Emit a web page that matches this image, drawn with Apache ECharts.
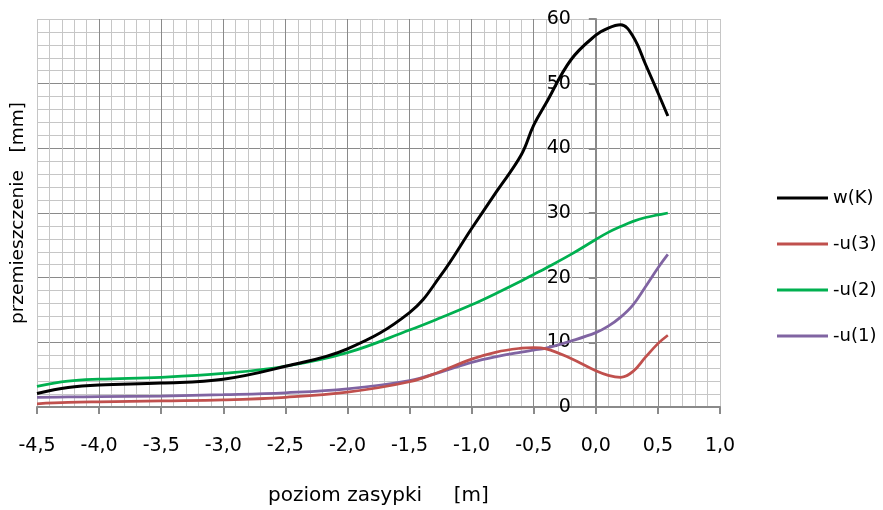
<!DOCTYPE html>
<html>
<head>
<meta charset="utf-8">
<title>przemieszczenie</title>
<script src="https://cdn.jsdelivr.net/npm/echarts@6/dist/echarts.min.js"></script>
<style>
  html, body { margin: 0; padding: 0; background: #fff; }
  #chart { width: 883px; height: 510px; }
</style>
</head>
<body>
<div id="chart"></div>
<script>
// poziom zasypki [m]
const xs = [-4.5, -4.25, -4.0, -3.5, -3.0, -2.5, -2.0, -1.5, -1.25, -1.0, -0.8, -0.6, -0.5, -0.4, -0.2, 0, 0.1, 0.2, 0.3, 0.4, 0.5, 0.58]

// przemieszczenie [mm]
const wK = [2.1, 3.0, 3.4, 3.7, 4.3, 6.3, 9.0, 14.6, 20.3, 27.6, 33.3, 39.0, 43.6, 47.0, 53.7, 57.5, 58.6, 59.1, 57.3, 53.0, 48.6, 45.0]
const u3 = [0.5, 0.7, 0.8, 0.95, 1.1, 1.5, 2.3, 3.9, 5.5, 7.4, 8.5, 9.1, 9.2, 9.0, 7.5, 5.6, 4.9, 4.6, 5.5, 7.7, 9.8, 11.1]
const u2 = [3.2, 4.0, 4.3, 4.6, 5.2, 6.3, 8.4, 11.9, 13.8, 15.8, 17.6, 19.5, 20.5, 21.5, 23.6, 25.9, 27.0, 27.9, 28.7, 29.3, 29.7, 30.0]
const u1 = [1.5, 1.55, 1.6, 1.7, 1.9, 2.2, 2.8, 4.1, 5.4, 6.9, 7.8, 8.5, 8.8, 9.1, 10.2, 11.5, 12.5, 13.9, 15.8, 18.6, 21.5, 23.6]

const seriesNames = ['w(K)', '-u(3)', '-u(2)', '-u(1)']
const seriesValues = [wK, u3, u2, u1]
const seriesColors = ['#000000', '#C0504D', '#00B050', '#8064A2']

const FONT = 'DejaVu Sans'
const MAJOR = '#8a8a8a'
const MINOR = '#c6c6c6'

const GRID_LEFT = 37
const GRID_RIGHT = 163
const X_MIN = -4.5
const X_MAX = 1.0

const chart = echarts.init(document.getElementById('chart'))

// y axis crosses at x = 0, move the whole axis there
const plotWidth = 883 - GRID_LEFT - GRID_RIGHT
const zeroOffset = plotWidth * (0 - X_MIN) / (X_MAX - X_MIN)

const option = {
  animation: false,
  textStyle: { fontFamily: FONT, color: '#000' },
  grid: {
    left: GRID_LEFT,
    right: GRID_RIGHT,
    top: 19,
    bottom: 103,
    containLabel: false,
    outerBoundsMode: 'none'
  },
  legend: {
    orient: 'vertical',
    left: 777,
    top: 189,
    padding: 0,
    itemWidth: 51,
    itemHeight: 3,
    itemGap: 28,
    icon: 'rect',
    data: seriesNames,
    textStyle: { fontFamily: FONT, fontSize: 18, color: '#000' }
  },
  xAxis: {
    type: 'value',
    min: X_MIN,
    max: X_MAX,
    interval: 0.5,
    name: 'poziom zasypki     [m]',
    nameLocation: 'middle',
    nameGap: 79,
    nameTextStyle: { fontFamily: FONT, fontSize: 20, color: '#000' },
    axisLine: { onZero: false, lineStyle: { color: MAJOR, width: 2 } },
    axisTick: { show: true, length: 7, lineStyle: { color: MAJOR, width: 2 } },
    axisLabel: {
      margin: 30,
      fontFamily: FONT,
      fontSize: 19,
      color: '#000',
      formatter: v => v.toFixed(1).replace('.', ',')
    },
    splitLine: {
      show: true,
      lineStyle: {
        color: [MINOR, MAJOR, MAJOR, MAJOR, MAJOR, MAJOR, MAJOR, MAJOR, MAJOR, MAJOR, MAJOR, MINOR],
        width: 1
      }
    },
    minorTick: { show: false, splitNumber: 5 },
    minorSplitLine: { show: true, lineStyle: { color: MINOR, width: 1 } }
  },
  yAxis: {
    type: 'value',
    min: 0,
    max: 60,
    interval: 10,
    offset: -zeroOffset,
    name: 'przemieszczenie   [mm]',
    nameLocation: 'middle',
    nameGap: zeroOffset + GRID_LEFT - 28,
    nameRotate: 90,
    nameTextStyle: { fontFamily: FONT, fontSize: 18.5, color: '#000' },
    axisLine: { show: true, onZero: false, lineStyle: { color: MAJOR, width: 2 } },
    axisTick: { show: true, length: 7, lineStyle: { color: MAJOR, width: 2 } },
    axisLabel: {
      margin: 25,
      fontFamily: FONT,
      fontSize: 19,
      color: '#000'
    },
    splitLine: {
      show: true,
      lineStyle: {
        color: [MAJOR, MAJOR, MAJOR, MAJOR, MAJOR, MAJOR, MINOR],
        width: 1
      }
    },
    minorTick: { show: false, splitNumber: 5 },
    minorSplitLine: { show: true, lineStyle: { color: MINOR, width: 1 } }
  },
  series: seriesNames.map((n, i) => ({
    name: n,
    type: 'line',
    smooth: 0.4,
    symbol: 'none',
    data: xs.map((x, j) => [x, seriesValues[i][j]]),
    lineStyle: { color: seriesColors[i], width: i === 0 ? 3 : 2.75 },
    itemStyle: { color: seriesColors[i] },
    z: 10 - i
  }))
}

chart.setOption(option)
</script>
</body>
</html>
